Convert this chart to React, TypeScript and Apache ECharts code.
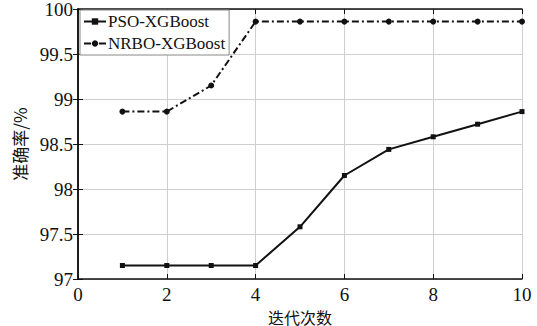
import React, { useEffect, useRef } from "react";
import * as echarts from "echarts";

const iterations = [1, 2, 3, 4, 5, 6, 7, 8, 9, 10];
const psoValues = [97.15, 97.15, 97.15, 97.15, 97.58, 98.15, 98.44, 98.58, 98.72, 98.86];
const nrboValues = [98.86, 98.86, 99.15, 99.86, 99.86, 99.86, 99.86, 99.86, 99.86, 99.86];
const seriesNames = ["PSO-XGBoost", "NRBO-XGBoost"];
const xAxisName = "迭代次数";
const yAxisName = "准确率/%";

const SERIF = "'Liberation Serif', 'Times New Roman', serif";
const CJK = "'Noto Sans CJK SC', sans-serif";

export default function App() {
  const ref = useRef<HTMLDivElement>(null);
  useEffect(() => {
    if (!ref.current) return;
    const chart = echarts.init(ref.current, undefined, { renderer: "svg" });
    const axisLine = { show: true, lineStyle: { color: "#111", width: 1.5 } };
    const splitLine = { show: true, lineStyle: { color: "#cfcfcf", width: 1 } };
    const tick = { show: true, inside: true, length: 5, lineStyle: { color: "#111", width: 1 } };
    const rich = { t: { fontFamily: SERIF, fontSize: 19, color: "#111" } };
    chart.setOption({
      animation: false,
      backgroundColor: "#fff",
      textStyle: { fontFamily: SERIF },
      grid: { left: 78, right: 15, top: 9, bottom: 47, containLabel: false, outerBoundsMode: "none" },
      legend: {
        left: 80,
        top: 10,
        orient: "vertical",
        itemWidth: 22,
        itemHeight: 8,
        itemGap: 5,
        padding: [3, 4, 3, 3],
        borderColor: "#888",
        borderWidth: 1,
        backgroundColor: "#fff",
        textStyle: { fontFamily: SERIF, fontSize: 17, color: "#111", padding: [0, 0, 0, -3] },
        data: seriesNames,
      },
      xAxis: [
        {
          type: "value",
          min: 0,
          max: 10,
          interval: 2,
          name: xAxisName,
          nameLocation: "middle",
          nameGap: 18,
          nameTextStyle: { fontFamily: CJK, fontSize: 16, color: "#111", lineHeight: 17 },
          axisLine,
          axisTick: tick,
          axisLabel: { formatter: "{t|{value}}", rich, fontFamily: SERIF, fontSize: 19, color: "#111", margin: 6 },
          splitLine,
        },
        {
          type: "value",
          position: "top",
          min: 0,
          max: 10,
          interval: 2,
          axisLine,
          axisTick: tick,
          axisLabel: { show: false },
          splitLine: { show: false },
        },
      ],
      yAxis: [
        {
          type: "value",
          min: 97,
          max: 100,
          interval: 0.5,
          name: yAxisName,
          nameLocation: "middle",
          nameGap: 42,
          nameTextStyle: { fontFamily: CJK, fontSize: 17, color: "#111", lineHeight: 18 },
          axisLine,
          axisTick: tick,
          axisLabel: { formatter: "{t|{value}}", rich, fontFamily: SERIF, fontSize: 19, color: "#111", margin: 5 },
          splitLine,
        },
        {
          type: "value",
          position: "right",
          min: 97,
          max: 100,
          interval: 0.5,
          axisLine,
          axisTick: tick,
          axisLabel: { show: false },
          splitLine: { show: false },
        },
      ],
      series: [
        {
          name: seriesNames[0],
          type: "line",
          data: iterations.map((x, i) => [x, psoValues[i]]),
          symbol: "rect",
          symbolSize: 5,
          itemStyle: { color: "#111" },
          lineStyle: { color: "#111", width: 2 },
        },
        {
          name: seriesNames[1],
          type: "line",
          data: iterations.map((x, i) => [x, nrboValues[i]]),
          symbol: "circle",
          symbolSize: 6,
          itemStyle: { color: "#111" },
          lineStyle: { color: "#111", width: 2, type: [7, 3, 2, 3] },
        },
      ],
    });
    return () => chart.dispose();
  }, []);
  return <div ref={ref} style={{ width: 537, height: 326, position: "absolute", left: 0, top: 0 }} />;
}
